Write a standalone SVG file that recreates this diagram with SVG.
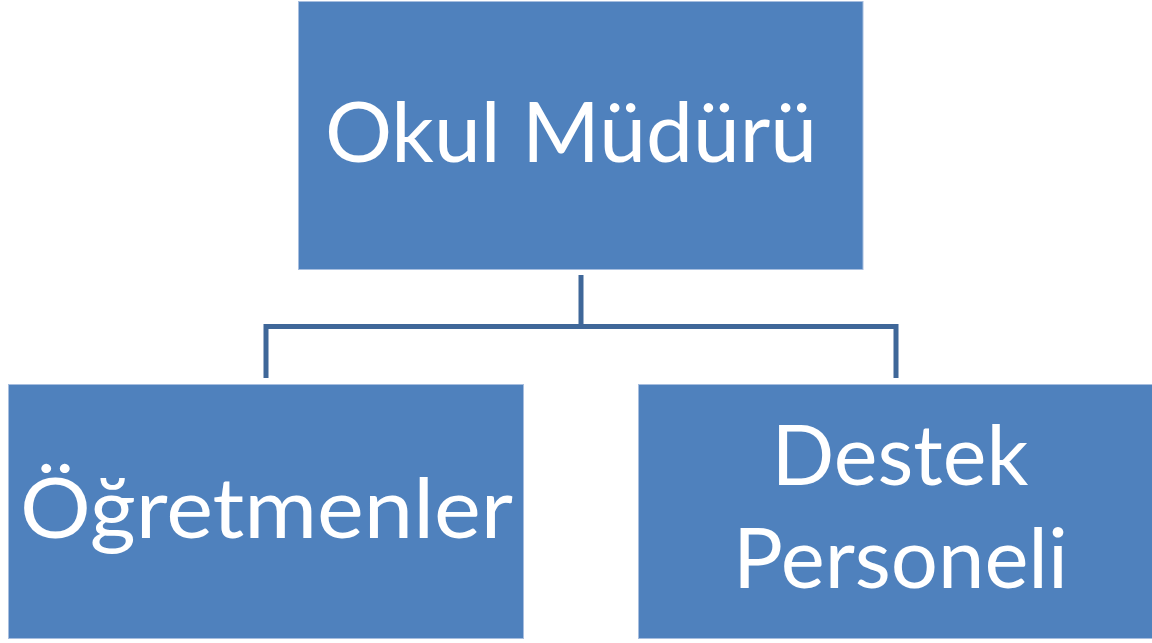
<svg xmlns="http://www.w3.org/2000/svg" width="1152" height="643" viewBox="0 0 1152 643">
<style>
.box{fill:#4F81BD;stroke:#A7BEDF;stroke-width:1}
.lbl{font-family:Lato,"Open Sans","Liberation Sans",sans-serif;font-size:84px;fill:#FFFFFF}
.conn{fill:none;stroke:#3F6799;stroke-width:5}
</style>
<rect width="1152" height="643" fill="#FFFFFF"/>
<g id="connectors">
<path class="conn" d="M581,275 V327"/>
<path class="conn" d="M266,378 V326.5 H896 V378"/>
</g>
<g id="okul-muduru">
<rect class="box" x="298.5" y="1.5" width="564.5" height="268"/>
<text class="lbl" x="325" y="162" textLength="492" lengthAdjust="spacingAndGlyphs">Okul Müdürü</text>
</g>
<g id="ogretmenler">
<rect class="box" x="8.5" y="384.5" width="515" height="254"/>
<text class="lbl" x="20" y="538" textLength="493" lengthAdjust="spacingAndGlyphs">Öğretmenler</text>
</g>
<g id="destek-personeli">
<rect class="box" x="638.5" y="384.5" width="520" height="254"/>
<text class="lbl" x="771.5" y="485" textLength="257" lengthAdjust="spacingAndGlyphs">Destek</text>
<text class="lbl" x="733" y="588" textLength="335" lengthAdjust="spacingAndGlyphs">Personeli</text>
</g>
</svg>
